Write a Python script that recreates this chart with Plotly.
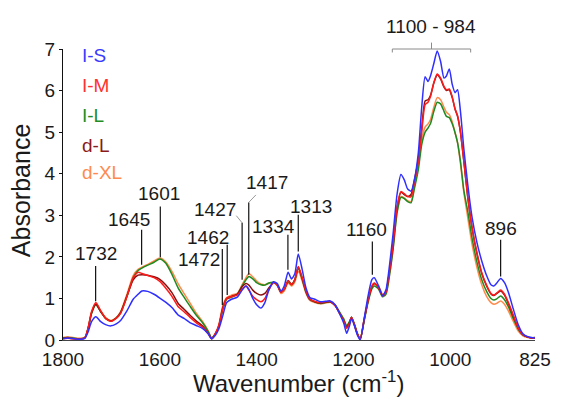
import plotly.graph_objects as go

# ---------------- data ----------------
wavenumber = [
    1800, 1790, 1770, 1755, 1748, 1741, 1732, 1722, 1712, 1701,
    1690, 1681, 1668, 1655, 1645, 1637, 1625, 1612, 1600, 1588,
    1575, 1562, 1550, 1538, 1525, 1512, 1500, 1493, 1485, 1478,
    1470, 1462, 1452, 1440, 1430, 1422, 1416, 1408, 1400, 1391,
    1383, 1375, 1365, 1357, 1350, 1343, 1335, 1328, 1321, 1314,
    1306, 1298, 1290, 1280, 1268, 1258, 1248, 1238, 1228, 1220,
    1214, 1208, 1204, 1198, 1192, 1186, 1178, 1170, 1162, 1157,
    1148, 1140, 1133, 1125, 1118, 1110, 1102, 1095, 1088, 1081,
    1074, 1066, 1059, 1052, 1046, 1041, 1034, 1027, 1020, 1013,
    1008, 1002, 996, 990, 985, 979, 972, 964, 955, 945,
    935, 925, 916, 910, 904, 896, 888, 880, 870, 860,
    850, 840, 832, 825,
]

I_S = [
    0.03, 0.05, 0.02, 0.04, 0.2, 0.44, 0.56, 0.44, 0.37, 0.34,
    0.39, 0.47, 0.7, 0.98, 1.1, 1.18, 1.17, 1.1, 1.01, 0.91,
    0.78, 0.6, 0.52, 0.42, 0.35, 0.28, 0.15, 0.03, 0.12, 0.27,
    0.58, 0.9, 0.98, 1.03, 1.2, 1.3, 1.22, 1.0, 0.85, 0.77,
    0.9, 1.2, 1.4, 1.35, 1.18, 1.3, 1.63, 1.47, 1.6, 2.07,
    1.7, 1.25, 1.02, 0.98, 0.92, 0.93, 0.94, 0.85, 0.62, 0.4,
    0.16, 0.35, 0.52, 0.34, 0.12, 0.0, 0.5, 1.05, 1.45, 1.5,
    1.3, 1.06, 1.2, 1.85, 2.57, 3.5, 3.98, 3.85, 3.63, 3.58,
    3.86, 4.5, 5.6, 6.33, 6.22, 6.35, 6.65, 6.95, 6.7, 6.3,
    6.35, 6.52, 6.15, 5.95, 6.02, 5.5, 4.6, 3.75, 2.95, 2.35,
    1.9, 1.55, 1.33, 1.3, 1.37, 1.48, 1.38, 1.15, 0.75, 0.38,
    0.15, 0.08, 0.06, 0.05,
]

I_M = [
    0.03, 0.04, 0.02, 0.05, 0.3, 0.68, 0.9, 0.7, 0.52, 0.45,
    0.52, 0.64, 1.04, 1.5, 1.63, 1.6, 1.55, 1.5, 1.41, 1.25,
    1.05, 0.8, 0.68, 0.55, 0.42, 0.31, 0.15, 0.03, 0.16, 0.35,
    0.75, 1.0, 1.04, 1.08, 1.22, 1.3, 1.2, 1.05, 0.97, 0.92,
    1.0, 1.2, 1.38, 1.32, 1.15, 1.22, 1.42, 1.33, 1.45, 1.77,
    1.5, 1.18, 0.98, 0.93, 0.9, 0.92, 0.93, 0.83, 0.62, 0.45,
    0.28, 0.4, 0.55, 0.36, 0.15, 0.02, 0.5, 0.95, 1.3, 1.37,
    1.25, 1.06, 1.15, 1.7, 2.33, 3.2, 3.57, 3.52, 3.45, 3.45,
    3.8, 4.3, 5.0, 5.66, 5.72, 5.85, 6.19, 6.4, 6.3, 6.1,
    6.02, 6.04, 5.85, 5.55, 5.4, 5.0, 4.3, 3.45, 2.7, 2.1,
    1.62, 1.32, 1.12, 1.08, 1.13, 1.2, 1.1, 0.9, 0.6, 0.3,
    0.13, 0.07, 0.05, 0.05,
]

d_L = [
    0.04, 0.05, 0.02, 0.05, 0.28, 0.65, 0.86, 0.68, 0.52, 0.46,
    0.53, 0.66, 1.05, 1.45, 1.56, 1.57, 1.56, 1.52, 1.46, 1.33,
    1.14, 0.88, 0.74, 0.6, 0.46, 0.34, 0.16, 0.03, 0.15, 0.34,
    0.78, 1.0, 1.05, 1.1, 1.28, 1.36, 1.32, 1.2, 1.12, 1.08,
    1.12, 1.25, 1.38, 1.32, 1.15, 1.22, 1.43, 1.34, 1.46, 1.75,
    1.48, 1.16, 0.98, 0.92, 0.89, 0.91, 0.92, 0.83, 0.63, 0.46,
    0.3, 0.42, 0.55, 0.37, 0.15, 0.03, 0.48, 0.93, 1.28, 1.36,
    1.26, 1.07, 1.15, 1.7, 2.3, 3.18, 3.55, 3.5, 3.45, 3.5,
    3.85, 4.35, 5.1, 5.75, 5.78, 5.88, 6.18, 6.38, 6.28, 6.08,
    6.0, 6.02, 5.83, 5.55, 5.38, 5.0, 4.3, 3.45, 2.7, 2.08,
    1.6, 1.3, 1.11, 1.07, 1.12, 1.18, 1.08, 0.88, 0.58, 0.3,
    0.13, 0.07, 0.05, 0.05,
]

I_L = [
    0.05, 0.06, 0.03, 0.05, 0.28, 0.64, 0.85, 0.68, 0.52, 0.46,
    0.53, 0.66, 1.05, 1.5, 1.67, 1.73, 1.8, 1.87, 1.95, 1.85,
    1.58, 1.25, 1.03, 0.82, 0.6, 0.42, 0.2, 0.05, 0.15, 0.33,
    0.72, 0.98, 1.03, 1.1, 1.3, 1.45, 1.53, 1.47, 1.38, 1.33,
    1.32, 1.37, 1.39, 1.32, 1.16, 1.22, 1.4, 1.33, 1.45, 1.75,
    1.47, 1.15, 0.97, 0.92, 0.88, 0.9, 0.92, 0.84, 0.66, 0.5,
    0.34, 0.45, 0.55, 0.38, 0.16, 0.03, 0.45, 0.9, 1.23, 1.3,
    1.22, 1.04, 1.1, 1.6, 2.2, 3.05, 3.43, 3.4, 3.33, 3.3,
    3.65, 4.1, 4.7, 5.0, 5.1, 5.2, 5.5, 5.72, 5.68, 5.5,
    5.38, 5.35, 5.2, 4.98, 4.75, 4.3, 3.6, 3.1, 2.45, 1.88,
    1.45, 1.17, 1.0, 0.96, 0.99, 1.06, 0.97, 0.8, 0.52, 0.27,
    0.12, 0.07, 0.05, 0.06,
]

d_XL = [
    0.06, 0.08, 0.04, 0.06, 0.3, 0.68, 0.88, 0.7, 0.54, 0.47,
    0.54, 0.68, 1.1, 1.55, 1.7, 1.75, 1.82, 1.9, 1.97, 1.88,
    1.65, 1.35, 1.12, 0.9, 0.65, 0.45, 0.22, 0.05, 0.17, 0.38,
    0.82, 1.02, 1.08, 1.12, 1.33, 1.5, 1.6, 1.52, 1.42, 1.35,
    1.33, 1.36, 1.38, 1.3, 1.12, 1.18, 1.37, 1.3, 1.4, 1.66,
    1.42, 1.12, 0.95, 0.9, 0.87, 0.89, 0.91, 0.83, 0.65, 0.5,
    0.33, 0.44, 0.55, 0.37, 0.15, 0.03, 0.47, 0.93, 1.27, 1.34,
    1.3, 1.1, 1.12, 1.6, 2.22, 3.08, 3.45, 3.42, 3.35, 3.33,
    3.7, 4.2, 4.82, 5.12, 5.2, 5.3, 5.6, 5.83, 5.78, 5.6,
    5.48, 5.42, 5.25, 4.98, 4.75, 4.25, 3.55, 2.95, 2.3, 1.75,
    1.33, 1.05, 0.9, 0.86, 0.88, 0.94, 0.86, 0.7, 0.45, 0.22,
    0.1, 0.06, 0.05, 0.06,
]

series_names = ["I-S", "I-M", "I-L", "d-L", "d-XL"]
x_ticks = [1800, 1600, 1400, 1200, 1000, 825]

# peak labels: text, leader x (cm-1), text x (cm-1), text y, leader top, leader bottom
peak_labels = ["1732", "1645", "1601", "1472", "1462", "1334", "1313", "1160", "896"]
peak_line_x = [1732.6, 1637.6, 1599, 1470.9, 1460.8, 1335.4, 1314, 1161, 896]
peak_text_x = [1732.2, 1663.5, 1601.8, 1518.9, 1501.3, 1365.1, 1286.9, 1172.4, 896]
peak_text_y = [2.07, 2.89, 3.52, 1.93, 2.47, 2.73, 3.21, 2.65, 2.69]
peak_line_top = [1.78, 2.65, 3.21, 2.19, 2.29, 2.53, 3.01, 2.37, 2.41]
peak_line_bot = [0.93, 1.81, 1.99, 0.84, 1.08, 1.69, 2.13, 1.57, 1.53]

# ---------------- figure ----------------
colors = {"I-S": "#2f2fff", "I-M": "#ff1a1a", "I-L": "#1f8a1f",
          "d-L": "#8b1010", "d-XL": "#ff8a4c"}
text_colors = {"I-S": "#3a3aff", "I-M": "#ff3030", "I-L": "#238c23",
               "d-L": "#8b1a1a", "d-XL": "#ff8a50"}
data_map = {"I-S": I_S, "I-M": I_M, "I-L": I_L, "d-L": d_L, "d-XL": d_XL}

assert all(len(v) == len(wavenumber) for v in data_map.values())

fig = go.Figure()
for name in ["d-XL", "I-L", "d-L", "I-M", "I-S"]:
    fig.add_trace(go.Scatter(
        x=wavenumber, y=data_map[name], mode="lines", name=name,
        line=dict(color=colors[name], width=1.5, shape="spline", smoothing=0.6),
        showlegend=False, hoverinfo="skip"))

FONT = "Liberation Sans, Arial, sans-serif"
ann = []
shapes = []

# legend (coloured text)
leg_y = [0.976, 0.873, 0.773, 0.670, 0.574]
for name, yy in zip(series_names, leg_y):
    ann.append(dict(xref="paper", yref="paper", x=0.036, y=yy, text=name,
                    showarrow=False, xanchor="left", yanchor="middle",
                    font=dict(family=FONT, size=19, color=text_colors[name])))

# peak labels with leader lines
for lab, lx, tx, ty, l0, l1 in zip(peak_labels, peak_line_x, peak_text_x,
                                    peak_text_y, peak_line_top, peak_line_bot):
    ann.append(dict(xref="x", yref="y", x=tx, y=ty, text=lab, showarrow=False,
                    xanchor="center", yanchor="middle",
                    font=dict(family=FONT, size=19, color="#1a1a1a")))
    shapes.append(dict(type="line", xref="x", yref="y", x0=lx, x1=lx, y0=l0, y1=l1,
                       line=dict(color="#111111", width=1.2)))

# 1427 with kinked leader
ann.append(dict(xref="x", yref="y", x=1486.5, y=3.13, text="1427", showarrow=False,
                font=dict(family=FONT, size=19, color="#1a1a1a")))
shapes.append(dict(type="line", xref="x", yref="y", x0=1442, y0=2.99, x1=1430, y1=2.82,
                   line=dict(color="#9a9a9a", width=1)))
shapes.append(dict(type="line", xref="x", yref="y", x0=1430, y0=2.82, x1=1430, y1=1.45,
                   line=dict(color="#111111", width=1.2)))
# 1417 with kinked leader
ann.append(dict(xref="x", yref="y", x=1377.9, y=3.79, text="1417", showarrow=False,
                font=dict(family=FONT, size=19, color="#1a1a1a")))
shapes.append(dict(type="line", xref="x", yref="y", x0=1401.5, y0=3.49, x1=1416.3, y1=3.31,
                   line=dict(color="#9a9a9a", width=1)))
shapes.append(dict(type="line", xref="x", yref="y", x0=1416.3, y0=3.31, x1=1416.3, y1=1.57,
                   line=dict(color="#111111", width=1.2)))

# bracket 1100 - 984
ann.append(dict(xref="paper", yref="paper", x=0.78, y=1.077, text="1100 - 984",
                showarrow=False, xanchor="center", yanchor="middle",
                font=dict(family=FONT, size=19, color="#1a1a1a")))
bx0, bx1, bxc = 0.6977, 0.8637, 0.7807
shapes += [
    dict(type="line", xref="paper", yref="paper", x0=bx0, x1=bx1, y0=1.0, y1=1.0,
         line=dict(color="#8a8a8a", width=1)),
    dict(type="line", xref="paper", yref="paper", x0=bx0, x1=bx0, y0=1.0, y1=0.988,
         line=dict(color="#8a8a8a", width=1)),
    dict(type="line", xref="paper", yref="paper", x0=bx1, x1=bx1, y0=1.0, y1=0.988,
         line=dict(color="#8a8a8a", width=1)),
    dict(type="line", xref="paper", yref="paper", x0=bxc, x1=bxc, y0=1.0, y1=1.022,
         line=dict(color="#8a8a8a", width=1)),
]

# axis titles
ann.append(dict(xref="paper", yref="paper", x=-0.089, y=0.515, text="Absorbance",
                textangle=-90, showarrow=False, xanchor="center", yanchor="middle",
                font=dict(family=FONT, size=25, color="#1a1a1a")))
ann.append(dict(xref="paper", yref="paper", x=0.498, y=-0.143,
                text="Wavenumber (cm<sup>-1</sup>)", showarrow=False,
                xanchor="center", yanchor="middle",
                font=dict(family=FONT, size=24, color="#1a1a1a")))

fig.update_layout(
    width=563, height=399,
    margin=dict(l=63, r=18, t=49, b=59),
    paper_bgcolor="white", plot_bgcolor="white",
    font=dict(family=FONT, size=19, color="#1a1a1a"),
    annotations=ann, shapes=shapes,
    xaxis=dict(range=[1800, 825], tickvals=x_ticks, ticktext=[str(t) for t in x_ticks],
               showline=True, linecolor="#444444", linewidth=1.2, ticks="",
               ticklabelstandoff=2,
               showgrid=False, zeroline=False,
               tickfont=dict(family=FONT, size=19, color="#1a1a1a")),
    yaxis=dict(range=[0, 7], dtick=1, showline=True, linecolor="#111111", linewidth=1.2,
               ticks="outside", ticklen=3, tickcolor="#111111",
               showgrid=False, zeroline=False,
               tickfont=dict(family=FONT, size=19, color="#1a1a1a")),
)

fig.write_html("out.html")
